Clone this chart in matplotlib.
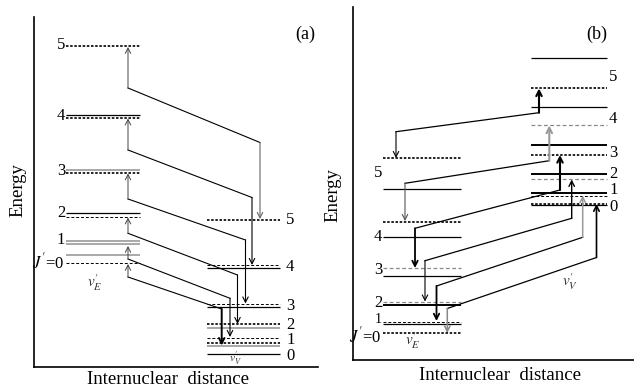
import matplotlib
matplotlib.use("Agg")
import matplotlib.pyplot as plt

plt.rcParams['font.family'] = ['Liberation Serif', 'DejaVu Serif']
plt.rcParams['mathtext.fontset'] = 'stix'

# ---- panel (a): level energies (pixel units, y grows downward) ----
a_e_levels = [45.5, 115, 117.5, 170, 172.5, 212.5, 216.5, 240.5, 244, 255, 262.5]
a_e_kinds = ['dk', 'sk', 'dk', 'sg', 'dk', 'sk', 'dd', 'sg', 'sg', 'sg', 'dd']
a_v_levels = [219.5, 265, 267.7, 304, 307.3, 324, 327.7, 337.7, 342.7, 345.7, 354]
a_v_kinds = ['dk', 'dd', 'sk', 'dd', 'sk', 'dk', 'sg', 'dd', 'dk', 'sg', 'sk']
a_e_labels = ['5', '4', '3', '2', '1', "$J'$=0"]
a_e_label_y = [45, 116, 171, 213, 240, 262]
a_v_labels = ['5', '4', '3', '2', '1', '0']
a_v_label_y = [220, 267, 306, 325, 340, 356]

# transitions (a): up on E side, diagonal, down on V side
a_up_from = [88, 150, 199, 233.3, 259, 277]
a_up_to = [47, 118.5, 173.5, 217.5, 246, 264]
a_down_x = [260, 252, 245.5, 237.5, 230, 221.7]
a_turn_y = [142.5, 197.5, 240, 275, 298.3, 309]
a_down_to = [219, 265, 303.5, 324, 337, 345.5]

# ---- panel (b) ----
b_e_levels = [158.3, 189.3, 221.7, 237.3, 268.3, 275.7, 301.7, 304.5, 321.7, 324, 333.3]
b_e_kinds = ['dk', 'sk', 'dk', 'sk', 'dg', 'sk', 'dg', 'sK', 'dd', 'sk', 'dk']
b_v_levels = [58.3, 88.3, 106.7, 125, 145, 155, 174, 179, 193.3, 196, 203.5, 205]
b_v_kinds = ['sk', 'dk', 'sk', 'dg', 'sK', 'dk', 'sK', 'dg', 'sK', 'dd', 'dk', 'sk']
b_e_labels = ['5', '4', '3', '2', '1', "$J'$=0"]
b_e_label_y = [173, 237, 270, 303, 319.5, 336]
b_v_labels = ['5', '4', '3', '2', '1', '0']
b_v_label_y = [77, 119, 153, 174, 190, 207]

b_up_x = [539, 549.3, 560, 571.7, 582.7, 596.5]
b_knee_y = [112.7, 160.7, 190, 218.3, 237.3, 257.5]
b_up_to = [88.5, 125.5, 155, 179.5, 195.5, 204]
b_down_x = [396, 405, 415, 425, 436.5, 447.3]
b_turn_y = [131.7, 183.3, 228.3, 260.7, 286, 308.5]
b_down_to = [158, 221, 268, 301.5, 321, 333]

styles = {
    'sk': dict(color='black', lw=0.9, ls='-'),
    'sK': dict(color='black', lw=1.4, ls='-'),
    'sg': dict(color='#999999', lw=1.2, ls='-'),
    'dk': dict(color='black', lw=1.2, ls=(0, (1.5, 1))),
    'dd': dict(color='black', lw=0.7, ls=(0, (3, 2))),
    'dg': dict(color='#888888', lw=0.9, ls=(0, (3, 2))),
}

W, H = 634, 388
fig = plt.figure(figsize=(W / 100, H / 100), dpi=100)


def make_axes(x0, x1, ytop, ybot):
    ax = fig.add_axes([x0 / W, (H - ybot) / H, (x1 - x0) / W, (ybot - ytop) / H])
    ax.set_xlim(x0, x1)
    ax.set_ylim(ybot, ytop)
    ax.set_xticks([])
    ax.set_yticks([])
    ax.spines['top'].set_visible(False)
    ax.spines['right'].set_visible(False)
    ax.spines['left'].set_linewidth(1.2)
    ax.spines['bottom'].set_linewidth(1.2)
    ax.patch.set_alpha(0)
    return ax


def levels(ax, xs, ys, kinds):
    for y, k in zip(ys, kinds):
        ax.plot(xs, [y, y], solid_capstyle='butt', **styles[k])


def arrow(ax, x, y0, y1, color='black', lw=0.8):
    ax.annotate('', xy=(x, y1), xytext=(x, y0),
                arrowprops=dict(arrowstyle='->,head_length=0.55,head_width=0.28',
                                color=color, lw=lw, shrinkA=0, shrinkB=0,
                                mutation_scale=7))


NUM = 12
LAB = 13.5

# ---------------- (a) ----------------
ax = make_axes(34, 318, 17, 367)
levels(ax, [66, 140], a_e_levels, a_e_kinds)
levels(ax, [207, 280], a_v_levels, a_v_kinds)
for t, y in zip(a_e_labels, a_e_label_y):
    ax.text(65, y, t, ha='right', va='center', fontsize=NUM)
for t, y in zip(a_v_labels, a_v_label_y):
    ax.text(286, y, t, ha='left', va='center', fontsize=NUM)
ax.text(95, 283, "$v_E'$", ha='center', va='center', fontsize=11, color='#333333')
ax.text(235, 358, "$v_V'$", ha='center', va='center', fontsize=8.5, color='#333333')

a_down_style = [('#666666', 0.8), ('black', 0.8), ('black', 0.8),
                ('black', 0.8), ('black', 0.8), ('black', 1.4)]
for i in range(len(a_up_from)):
    arrow(ax, 128, a_up_from[i], a_up_to[i], color='#444444', lw=0.7)
    ax.plot([128, a_down_x[i]], [a_up_from[i], a_turn_y[i]], color='black', lw=0.8)
    c, w = a_down_style[i]
    arrow(ax, a_down_x[i], a_turn_y[i], a_down_to[i], color=c, lw=w)

ax.text(305, 34, '(a)', ha='center', va='center', fontsize=13)
ax.set_ylabel('Energy', fontsize=LAB, va='center')
ax.yaxis.set_label_coords((18 - 34) / 284, (367 - 190) / 350)
ax.set_xlabel('Internuclear  distance', fontsize=LAB, va='center')
ax.xaxis.set_label_coords((168 - 34) / 284, (367 - 379) / 350)

# ---------------- (b) ----------------
ax = make_axes(353, 634, 7, 360)
levels(ax, [383, 460.5], b_e_levels, b_e_kinds)
levels(ax, [531, 607], b_v_levels, b_v_kinds)
b_e_sizes = [NUM, NUM, NUM, NUM, 10, NUM]
for t, y, s in zip(b_e_labels, b_e_label_y, b_e_sizes):
    ax.text(382, y, t, ha='right', va='center', fontsize=s)
for t, y in zip(b_v_labels, b_v_label_y):
    ax.text(609, y, t, ha='left', va='center', fontsize=NUM)
ax.text(413, 341, "$v_E'$", ha='center', va='center', fontsize=11, color='#333333')
ax.text(570, 282, "$v_V'$", ha='center', va='center', fontsize=11, color='#333333')

b_up_style = [('black', 1.5), ('#999999', 1.5), ('black', 1.5),
              ('black', 1.0), ('#999999', 1.1), ('black', 1.2)]
b_down_style = [('black', 0.8), ('#555555', 0.8), ('black', 1.3),
                ('black', 0.8), ('black', 1.3), ('#888888', 1.1)]
for i in range(len(b_up_x)):
    c, w = b_up_style[i]
    arrow(ax, b_up_x[i], b_knee_y[i], b_up_to[i], color=c, lw=w)
    ax.plot([b_up_x[i], b_down_x[i]], [b_knee_y[i], b_turn_y[i]], color='black', lw=0.9)
    c, w = b_down_style[i]
    arrow(ax, b_down_x[i], b_turn_y[i], b_down_to[i], color=c, lw=w)

ax.text(597, 34, '(b)', ha='center', va='center', fontsize=13)
ax.set_ylabel('Energy', fontsize=LAB, va='center')
ax.yaxis.set_label_coords((333 - 353) / 281, (360 - 195) / 353)
ax.set_xlabel('Internuclear  distance', fontsize=LAB, va='center')
ax.xaxis.set_label_coords((500 - 353) / 281, (360 - 375) / 353)

fig.savefig('out.png', dpi=100)
